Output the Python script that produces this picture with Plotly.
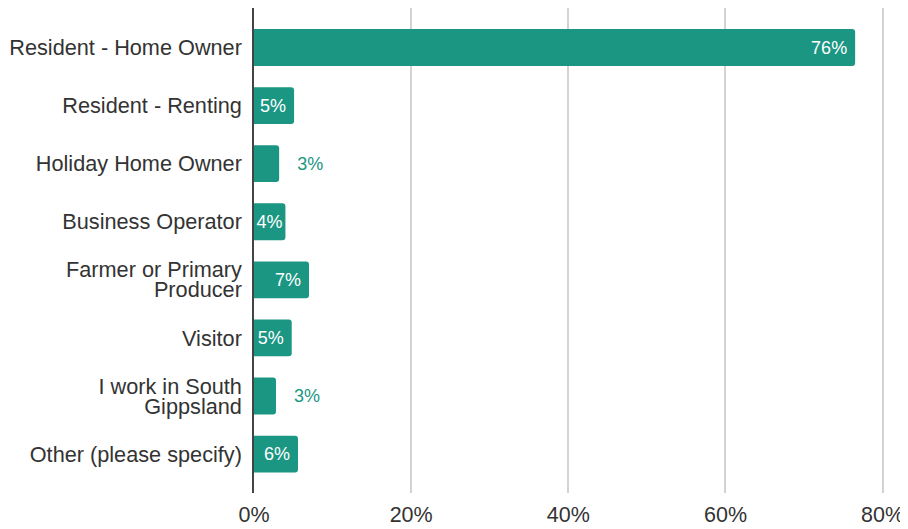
import plotly.graph_objects as go

categories = [
    "Resident - Home Owner",
    "Resident - Renting",
    "Holiday Home Owner",
    "Business Operator",
    "Farmer or Primary<br>Producer",
    "Visitor",
    "I work in South<br>Gippsland",
    "Other (please specify)",
]
values = [76.5, 5.1, 3.2, 4.0, 7.0, 4.8, 2.8, 5.6]
x_ticks = [0, 20, 40, 60, 80]
x_tick_labels = ["0%", "20%", "40%", "60%", "80%"]

TEAL = "#1b9683"
NB = "\u00a0"
FONT = "Liberation Sans, Arial, Helvetica, sans-serif"

texts = []
positions = []
text_colors = []
for v in values:
    if v >= 3.5:
        texts.append(f"{round(v)}%" + (NB if v >= 4.5 else ""))
        positions.append("inside")
        text_colors.append("white")
    else:
        texts.append(NB * 3 + f"{round(v)}%")
        positions.append("outside")
        text_colors.append(TEAL)

# category tick labels; wrapped labels get one tick per line for tighter line spacing
LINE_OFFSET = 0.172
tick_vals = []
tick_text = []
for i, cat in enumerate(categories):
    lines = cat.split("<br>")
    n = len(lines)
    for j, line in enumerate(lines):
        tick_vals.append(i + (j - (n - 1) / 2) * 2 * LINE_OFFSET)
        tick_text.append(line)

fig = go.Figure(
    go.Bar(
        x=values,
        y=list(range(len(categories))),
        orientation="h",
        marker=dict(color=TEAL, cornerradius=3, line=dict(width=0)),
        text=texts,
        textposition=positions,
        insidetextanchor="end",
        textangle=0,
        constraintext="none",
        textfont=dict(family=FONT, size=18, color=text_colors),
        cliponaxis=False,
        hoverinfo="skip",
    )
)

# page body adds an 8px offset, so the figure is sized 900x521
fig.update_layout(
    width=900,
    height=521,
    margin=dict(l=246, r=23, t=0, b=36, pad=0),
    paper_bgcolor="white",
    plot_bgcolor="white",
    bargap=0.365,
    showlegend=False,
    font=dict(family=FONT, size=20, color="#333333"),
)

fig.update_xaxes(
    range=[0, 80.3],
    tickvals=x_ticks,
    ticktext=x_tick_labels,
    showgrid=True,
    gridcolor="#d3d3d3",
    gridwidth=1.5,
    zeroline=False,
    showline=False,
    ticks="",
    ticklabelstandoff=6,
    ticklabeloverflow="allow",
    tickfont=dict(family=FONT, size=21.5, color="#333333"),
    automargin=False,
    fixedrange=True,
)

fig.update_yaxes(
    range=[7.67, -0.68],
    tickvals=tick_vals,
    ticktext=tick_text,
    showgrid=False,
    zeroline=False,
    showline=True,
    linecolor="#444444",
    linewidth=1.5,
    ticks="",
    ticklabelstandoff=6,
    ticklabeloverflow="allow",
    tickfont=dict(family=FONT, size=21.7, color="#333333"),
    automargin=False,
    fixedrange=True,
)

fig.write_html("out.html")
